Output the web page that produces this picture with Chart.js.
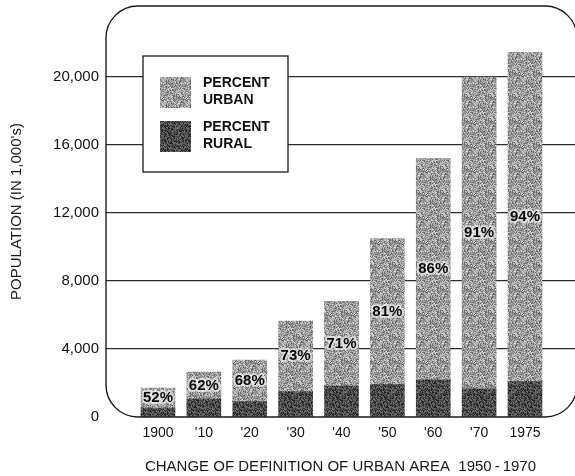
<!DOCTYPE html>
<html>
<head>
<meta charset="utf-8">
<script src="https://cdn.jsdelivr.net/npm/chart.js@4/dist/chart.umd.min.js"></script>
<style>
  html, body { margin: 0; padding: 0; background: #fff; }
</style>
</head>
<body>
<canvas id="chart" width="575" height="476"></canvas>
<script>
const years = ["1900", "'10", "'20", "'30", "'40", "'50", "'60", "'70", "1975"];
const ruralPop = [530, 1060, 900, 1490, 1820, 1920, 2180, 1660, 2080];
const urbanPop = [1170, 1590, 2450, 4160, 4980, 8580, 13020, 18340, 19370];
const urbanPct = [52, 62, 68, 73, 71, 81, 86, 91, 94];
const yTicks = [0, 4000, 8000, 12000, 16000, 20000];

const FONT = "'Liberation Sans', Arial, Helvetica, sans-serif";
Chart.defaults.font.family = FONT;
Chart.defaults.color = '#111';

// stippled fill like the printed screen tone (hash, so it is the same every run)
function makeTone(lo, hi, seed) {
  const c = document.createElement('canvas');
  c.width = 24; c.height = 24;
  const g = c.getContext('2d');
  const img = g.createImageData(24, 24);
  for (let y = 0; y < 24; y++) {
    for (let x = 0; x < 24; x++) {
      let h = Math.imul(x * 374761393 + y * 668265263 + seed, 1274126177);
      h = (h ^ (h >>> 13)) >>> 0;
      const t = (h % 1000) / 1000;
      const v = Math.round(lo + (hi - lo) * t);
      const i = (y * 24 + x) * 4;
      img.data[i] = img.data[i + 1] = img.data[i + 2] = v;
      img.data[i + 3] = 255;
    }
  }
  g.putImageData(img, 0, 0);
  return g.createPattern(c, 'repeat');
}
const urbanFill = makeTone(95, 215, 17);
const ruralFill = makeTone(25, 120, 91);

const framePlugin = {
  id: 'frame',
  afterDatasetsDraw(chart) {
    const { ctx, chartArea: a } = chart;
    const r = 32, L = a.left, T = a.top, R = a.right + 2, B = a.bottom;
    ctx.save();
    ctx.strokeStyle = '#1a1a1a';
    ctx.lineWidth = 1.4;
    ctx.beginPath();
    ctx.moveTo(L + r, T);
    ctx.arcTo(R, T, R, B, r);
    ctx.arcTo(R, B, L, B, r);
    ctx.arcTo(L, B, L, T, r);
    ctx.arcTo(L, T, R, T, r);
    ctx.closePath();
    ctx.stroke();
    ctx.restore();
  }
};

const keyPlugin = {
  id: 'keyBox',
  afterDatasetsDraw(chart) {
    const { ctx, chartArea: a } = chart;
    const x = a.left + 37, y = a.top + 50;
    ctx.save();
    ctx.fillStyle = '#fff';
    ctx.fillRect(x, y, 145, 116);
    ctx.strokeStyle = '#1a1a1a';
    ctx.lineWidth = 1.3;
    ctx.strokeRect(x, y, 145, 116);
    const rows = [
      { fill: urbanFill, lines: ['PERCENT', 'URBAN'], top: y + 21 },
      { fill: ruralFill, lines: ['PERCENT', 'RURAL'], top: y + 65 }
    ];
    ctx.font = 'bold 14px ' + FONT;
    ctx.textBaseline = 'middle';
    rows.forEach(row => {
      ctx.fillStyle = row.fill;
      ctx.fillRect(x + 17, row.top, 31, 31);
      ctx.fillStyle = '#111';
      ctx.fillText(row.lines[0], x + 60, row.top + 6);
      ctx.fillText(row.lines[1], x + 60, row.top + 23);
    });
    ctx.restore();
  }
};

const pctPlugin = {
  id: 'pctLabels',
  afterDatasetsDraw(chart) {
    const { ctx } = chart;
    const meta = chart.getDatasetMeta(1);
    ctx.save();
    ctx.font = 'bold 15px ' + FONT;
    ctx.textAlign = 'center';
    ctx.textBaseline = 'middle';
    ctx.lineJoin = 'round';
    meta.data.forEach((bar, i) => {
      const cy = (bar.y + bar.base) / 2;
      const txt = urbanPct[i] + '%';
      ctx.strokeStyle = 'rgba(255,255,255,0.6)';
      ctx.lineWidth = 4;
      ctx.strokeText(txt, bar.x, cy);
      ctx.fillStyle = '#0a0a0a';
      ctx.fillText(txt, bar.x, cy);
    });
    ctx.restore();
  }
};

new Chart(document.getElementById('chart'), {
  type: 'bar',
  data: {
    datasets: [
      {
        label: 'PERCENT RURAL',
        data: ruralPop.map((v, i) => ({ x: i, y: v })),
        backgroundColor: ruralFill,
        barThickness: 34
      },
      {
        label: 'PERCENT URBAN',
        data: urbanPop.map((v, i) => ({ x: i, y: v })),
        backgroundColor: urbanFill,
        barThickness: 34
      }
    ]
  },
  options: {
    responsive: false,
    animation: false,
    layout: { padding: { left: 8, top: 6, right: 0, bottom: 0 } },
    plugins: {
      legend: { display: false },
      tooltip: { enabled: false }
    },
    scales: {
      x: {
        type: 'linear',
        stacked: true,
        offset: false,
        min: -1.133,
        max: 9.09,
        grid: { display: false, drawTicks: false, offset: false },
        border: { display: false },
        afterBuildTicks: s => { s.ticks = years.map((_, i) => ({ value: i })); },
        afterFit: s => { s.height = 59; s.paddingLeft = 0; s.paddingRight = 0; },
        ticks: {
          autoSkip: false,
          maxRotation: 0,
          padding: 8,
          font: { size: 14 },
          callback: v => years[v]
        },
        title: {
          display: true,
          text: 'CHANGE OF DEFINITION OF URBAN AREA  1950\u2009-\u20091970',
          color: '#1a1a1a',
          font: { size: 15 },
          padding: { top: 16, bottom: 0 }
        }
      },
      y: {
        stacked: true,
        min: 0,
        max: 24180,
        afterBuildTicks: s => { s.ticks = yTicks.map(v => ({ value: v })); },
        afterFit: s => { s.width = 98; s.paddingTop = 0; s.paddingBottom = 0; },
        grid: {
          drawTicks: false,
          lineWidth: 1.3,
          color: c => (c.tick && c.tick.value === 0) ? 'rgba(0,0,0,0)' : '#2b2b2b'
        },
        border: { display: false },
        ticks: {
          padding: 7,
          font: { size: 15 },
          callback: v => v.toLocaleString('en-US')
        },
        title: {
          display: true,
          text: "POPULATION (IN 1,000's)",
          color: '#1a1a1a',
          font: { size: 15 },
          padding: { top: 0, bottom: 27 }
        }
      }
    }
  },
  plugins: [framePlugin, keyPlugin, pctPlugin]
});
</script>
</body>
</html>
